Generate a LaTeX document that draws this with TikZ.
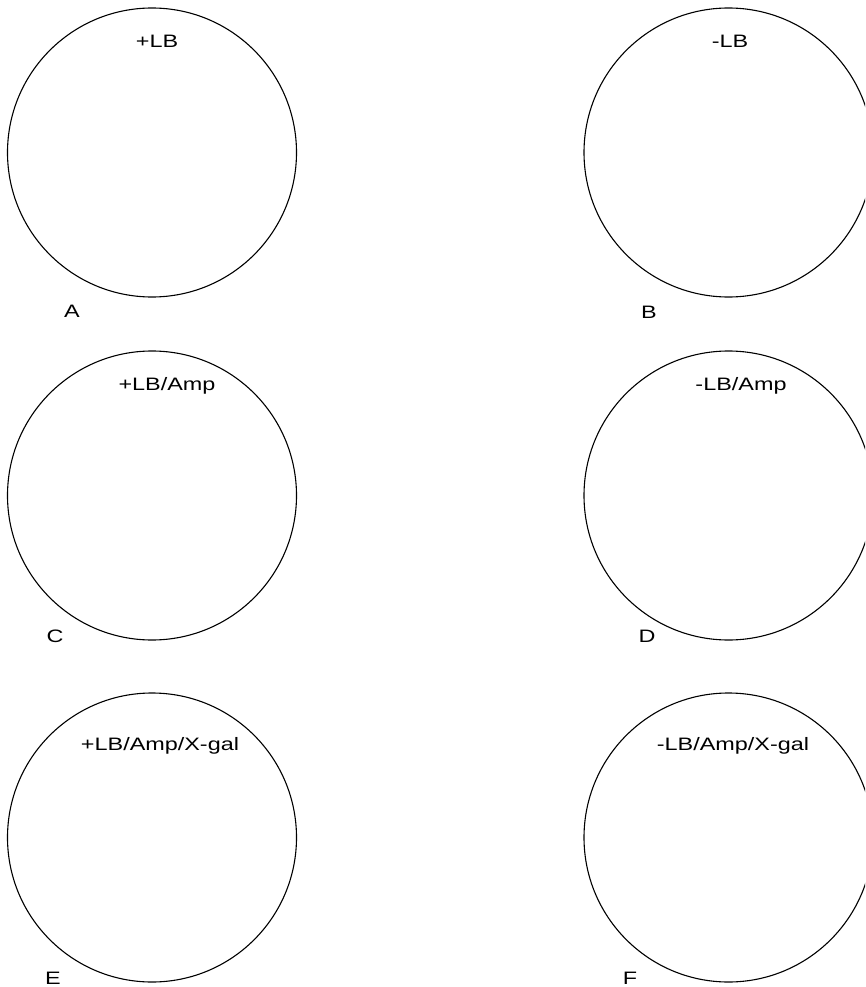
\documentclass[tikz,border=0pt]{standalone}
\usepackage{fontspec}
\newfontfamily\platefont[FakeStretch=1.3]{Liberation Sans}
\tikzset{
  plate/.style={draw, circle, line width=1.1pt, minimum size=289pt, inner sep=0pt},
  medium/.style={anchor=base, inner sep=0pt, font=\platefont\fontsize{18}{20}\selectfont},
  tag/.style={anchor=base, inner sep=0pt, font=\platefont\fontsize{18}{20}\selectfont}
}
\begin{document}
\begin{tikzpicture}[x=1pt, y=-1pt]
  \useasboundingbox (0,0) rectangle (865,987);
  \clip (0,0) rectangle (865,987);

  % Row 1: LB only
  \node[plate] (pA) at (152,152.5) {};
  \node[medium] (mA) at (157,48) {+LB};
  \node[tag] (tA) at (72,317) {A};
  \node[plate] (pB) at (728.5,152.5) {};
  \node[medium] (mB) at (730,48) {-LB};
  \node[tag] (tB) at (649,318) {B};

  % Row 2: LB with ampicillin
  \node[plate] (pC) at (152,495.5) {};
  \node[medium] (mC) at (167,390) {+LB/Amp};
  \node[tag] (tC) at (55,642) {C};
  \node[plate] (pD) at (728.5,495.5) {};
  \node[medium] (mD) at (741,390) {-LB/Amp};
  \node[tag] (tD) at (647,642) {D};

  % Row 3: LB with ampicillin and X-gal
  \node[plate] (pE) at (152,837.5) {};
  \node[medium] (mE) at (160,750) {+LB/Amp/X-gal};
  \node[tag] (tE) at (53,984) {E};
  \node[plate] (pF) at (728.5,837.5) {};
  \node[medium] (mF) at (733,750) {-LB/Amp/X-gal};
  \node[tag] (tF) at (630,984) {F};
\end{tikzpicture}
\end{document}
